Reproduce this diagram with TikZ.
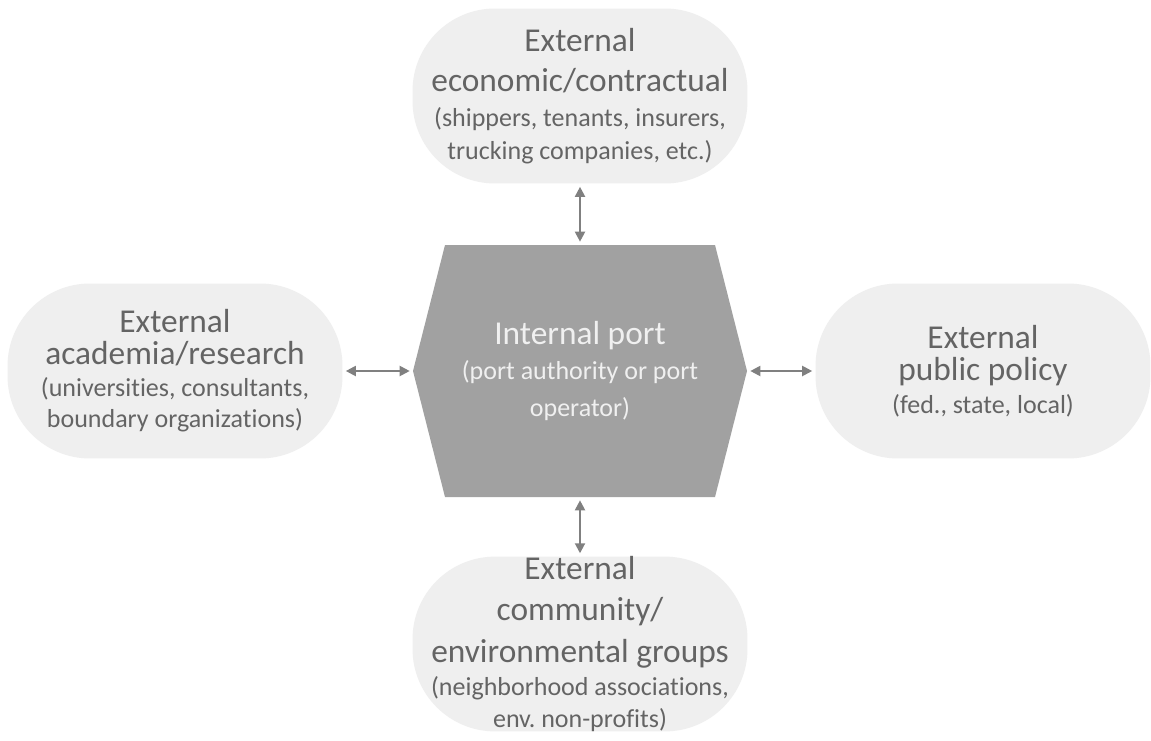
\documentclass[tikz,border=0pt]{standalone}
\usepackage{fontspec}
\setmainfont[Ligatures=NoCommon]{Carlito}
\frenchspacing
\usetikzlibrary{arrows.meta}
\definecolor{blobgray}{RGB}{239,239,239}
\definecolor{portgray}{RGB}{161,161,161}
\definecolor{textgray}{RGB}{100,100,100}
\definecolor{linkgray}{RGB}{128,128,128}
\newcommand{\bigf}{\fontsize{19}{23}\selectfont}
\newcommand{\smallf}{\fontsize{14.8}{23}\selectfont}

\begin{document}
\begin{tikzpicture}[x=0.02cm,y=-0.02cm,
  extbox/.style={fill=blobgray, rounded corners=1.65cm, minimum width=6.7cm,
    minimum height=3.5cm, align=center, text=textgray, font=\bigf, inner sep=0pt},
  portbox/.style={minimum width=6.68cm, minimum height=5.04cm, align=center,
    text=white!94!black, font=\bigf, inner sep=0pt},
  link/.style={{Triangle[length=0.2cm,width=0.2cm]}-{Triangle[length=0.2cm,width=0.2cm]},
    draw=linkgray, line width=0.04cm, shorten >=0.06cm, shorten <=0.06cm}]
  \fill[white] (0,0) rectangle (1151,740);
  % internal port
  \fill[portgray] (445,245) -- (715,245) -- (747,371) -- (715,497) -- (445,497) -- (413,371) -- cycle;
  \node[portbox] (port) at (580,371) {Internal port\\[-3pt] \smallf (port authority or port\\[-2pt] \smallf operator)};
  % external groups
  \node[extbox] (econ) at (580,96) {External\\ economic/contractual\\[-3pt] \smallf (shippers, tenants, insurers,\\[-4.2pt] \smallf trucking companies, etc.)};
  \node[extbox] (acad) at (175,371) {External\\[-4.8pt] academia/research\\[-4.8pt] \smallf (universities, consultants,\\[-5.4pt] \smallf boundary organizations)};
  \node[extbox] (policy) at (983,371) {External\\[-4.8pt] public policy\\[-4.3pt] \smallf (fed., state, local)};
  \node[extbox, minimum height=3.44cm] (comm) at (580,644) {External\\ community/\\[0.9pt] environmental groups\\[-4.2pt] \smallf (neighborhood associations,\\[-4.8pt] \smallf env. non-profits)};
  \foreach \a in {econ,acad,policy,comm} \draw[link] (\a) -- (port);
\end{tikzpicture}
\end{document}
